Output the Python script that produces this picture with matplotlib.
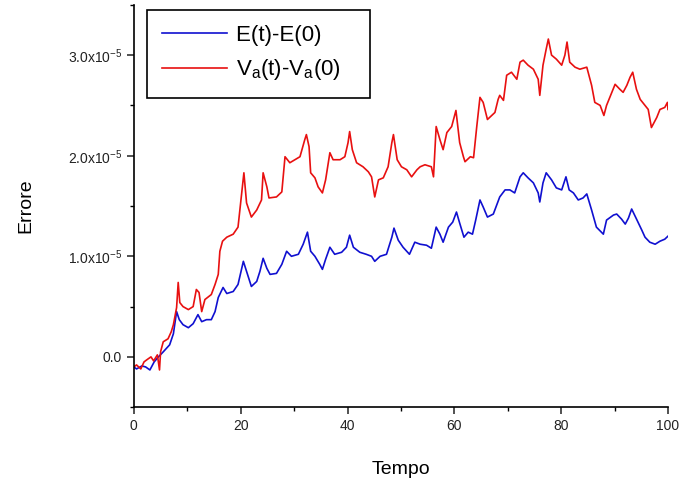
import matplotlib
matplotlib.use("Agg")
import matplotlib.pyplot as plt
from matplotlib.ticker import FuncFormatter, MultipleLocator

plt.rcParams["font.family"] = ["Liberation Sans", "DejaVu Sans"]
plt.rcParams["mathtext.default"] = "regular"

SCALE = 1e-5

# energy error E(t)-E(0), values in units of 1e-5
blue_t = [0.0, 0.5, 1.5, 2.2, 3.0, 3.8, 4.6, 5.5, 6.7, 7.4,
          8.0, 8.5, 9.2, 10.2, 11.1, 12.0, 12.7, 13.6, 14.5, 15.2,
          15.8, 16.7, 17.4, 18.6, 19.5, 20.5, 21.1, 22.0, 23.0, 23.6,
          24.2, 24.9, 25.5, 26.7, 27.7, 28.6, 29.5, 30.8, 31.7, 32.5,
          33.1, 33.9, 34.8, 35.3, 35.9, 36.7, 37.6, 38.9, 39.8, 40.4,
          41.1, 42.3, 43.5, 44.5, 45.1, 46.1, 47.3, 48.3, 48.7, 49.5,
          50.4, 51.6, 52.6, 53.6, 54.8, 55.7, 56.6, 57.3, 57.9, 58.9,
          59.7, 60.4, 61.0, 61.8, 62.6, 63.4, 64.0, 64.8, 65.4, 66.2,
          67.3, 68.5, 69.5, 70.4, 71.3, 72.3, 72.9, 73.8, 74.8, 75.7,
          76.0, 76.6, 77.2, 78.2, 79.1, 80.1, 80.9, 81.5, 82.3, 83.2,
          84.1, 84.8, 85.7, 86.6, 87.9, 88.5, 89.8, 90.4, 91.3, 92.0,
          92.6, 93.2, 94.2, 95.1, 95.7, 96.6, 97.6, 98.5, 99.4, 100.0]
blue_v = [-0.10, -0.12, -0.09, -0.10, -0.13, -0.05, 0.00, 0.05, 0.12, 0.23,
          0.45, 0.37, 0.32, 0.29, 0.33, 0.42, 0.35, 0.37, 0.37, 0.45,
          0.59, 0.69, 0.63, 0.65, 0.72, 0.95, 0.85, 0.70, 0.75, 0.85,
          0.98, 0.88, 0.82, 0.83, 0.92, 1.05, 1.00, 1.02, 1.12, 1.24,
          1.05, 1.00, 0.92, 0.87, 0.97, 1.09, 1.02, 1.04, 1.09, 1.21,
          1.09, 1.04, 1.02, 1.00, 0.95, 1.00, 1.02, 1.19, 1.28, 1.16,
          1.09, 1.02, 1.14, 1.12, 1.11, 1.08, 1.29, 1.22, 1.14, 1.29,
          1.34, 1.44, 1.33, 1.19, 1.24, 1.22, 1.36, 1.56, 1.49, 1.39,
          1.42, 1.59, 1.66, 1.66, 1.63, 1.79, 1.83, 1.78, 1.73, 1.63,
          1.54, 1.73, 1.83, 1.76, 1.68, 1.66, 1.79, 1.66, 1.63, 1.56,
          1.58, 1.62, 1.46, 1.29, 1.22, 1.36, 1.41, 1.42, 1.37, 1.32,
          1.38, 1.47, 1.36, 1.26, 1.19, 1.14, 1.12, 1.15, 1.17, 1.20]

# Va(t)-Va(0), values in units of 1e-5
red_t = [0.0, 0.5, 1.3, 1.9, 2.4, 3.2, 3.7, 4.4, 4.8, 5.0,
         5.5, 6.4, 7.0, 7.4, 8.0, 8.3, 8.6, 9.2, 10.2, 11.1,
         11.7, 12.2, 12.7, 13.3, 14.5, 15.2, 15.8, 16.1, 16.6, 17.4,
         18.6, 19.5, 20.2, 20.6, 21.1, 22.0, 23.0, 23.9, 24.2, 24.9,
         25.3, 26.7, 27.7, 28.3, 29.2, 31.1, 32.0, 32.3, 32.8, 33.1,
         33.9, 34.5, 35.3, 35.9, 36.7, 37.3, 38.6, 39.5, 40.1, 40.4,
         40.9, 41.7, 42.9, 43.9, 44.5, 45.1, 45.8, 46.7, 47.6, 48.3,
         48.6, 49.3, 50.1, 51.1, 52.0, 53.0, 53.6, 54.5, 55.7, 56.1,
         56.6, 57.3, 57.9, 58.6, 59.5, 60.3, 61.0, 61.7, 62.0, 63.0,
         63.6, 64.2, 64.8, 65.4, 66.2, 67.0, 67.6, 68.2, 68.5, 69.2,
         69.8, 70.7, 71.7, 72.3, 72.9, 73.8, 74.8, 75.7, 76.0, 76.6,
         77.2, 77.6, 78.2, 79.1, 80.1, 80.7, 81.1, 81.6, 82.6, 83.5,
         84.8, 85.7, 86.3, 87.3, 88.0, 88.5, 89.5, 90.1, 91.0, 91.6,
         92.3, 92.9, 93.4, 94.1, 94.8, 95.7, 96.3, 96.9, 97.2, 97.9,
         98.5, 99.4, 99.9, 100.0]
red_v = [-0.10, -0.08, -0.12, -0.05, -0.03, 0.00, -0.04, 0.02, -0.13, 0.05,
         0.15, 0.18, 0.25, 0.32, 0.49, 0.74, 0.54, 0.50, 0.47, 0.50,
         0.67, 0.64, 0.45, 0.57, 0.62, 0.72, 0.82, 1.05, 1.15, 1.19,
         1.22, 1.29, 1.63, 1.83, 1.53, 1.39, 1.46, 1.56, 1.83, 1.69,
         1.58, 1.59, 1.64, 1.99, 1.93, 1.99, 2.16, 2.21, 2.09, 1.83,
         1.78, 1.69, 1.63, 1.76, 2.03, 1.96, 1.96, 1.99, 2.13, 2.24,
         2.06, 1.93, 1.89, 1.84, 1.79, 1.59, 1.76, 1.78, 1.89, 2.13,
         2.21, 1.96, 1.89, 1.86, 1.79, 1.86, 1.89, 1.91, 1.89, 1.79,
         2.29, 2.16, 2.06, 2.23, 2.29, 2.45, 2.13, 1.99, 1.94, 1.99,
         1.98, 2.29, 2.58, 2.53, 2.36, 2.40, 2.43, 2.56, 2.60, 2.55,
         2.80, 2.83, 2.76, 2.93, 2.95, 2.90, 2.86, 2.76, 2.60, 2.90,
         3.06, 3.16, 3.00, 2.96, 2.90, 3.00, 3.13, 2.93, 2.88, 2.86,
         2.88, 2.70, 2.53, 2.50, 2.40, 2.50, 2.63, 2.71, 2.66, 2.63,
         2.70, 2.78, 2.83, 2.66, 2.56, 2.50, 2.46, 2.28, 2.31, 2.38,
         2.46, 2.48, 2.53, 2.46]

series_labels = ["E(t)-E(0)", "V$_a$(t)-V$_a$(0)"]


def fmt_y(val, pos):
    m = val / SCALE
    if abs(m) < 1e-9:
        return "0.0"
    return f"{m:.1f}x10$^{{-5}}$"


fig = plt.figure(figsize=(6.83, 4.83), dpi=100)
ax = fig.add_axes([0.196, 0.157, 0.782, 0.833])

ax.plot(blue_t, [v * SCALE for v in blue_v], color="#1010d0", lw=1.2,
        label=series_labels[0])
ax.plot(red_t, [v * SCALE for v in red_v], color="#e81010", lw=1.2,
        label=series_labels[1])

ax.set_xlim(0, 100)
ax.set_ylim(-0.5 * SCALE, 3.5 * SCALE)
ax.xaxis.set_major_locator(MultipleLocator(20))
ax.xaxis.set_minor_locator(MultipleLocator(10))
ax.yaxis.set_major_locator(MultipleLocator(1 * SCALE))
ax.yaxis.set_minor_locator(MultipleLocator(0.5 * SCALE))
ax.yaxis.set_major_formatter(FuncFormatter(fmt_y))

for side in ("top", "right"):
    ax.spines[side].set_visible(False)
for side in ("left", "bottom"):
    ax.spines[side].set_linewidth(1.2)

ax.tick_params(which="major", direction="out", length=5, width=1.1,
               labelsize=10, colors="#222222")
ax.tick_params(which="minor", direction="out", length=3, width=1.0)

ax.set_xlabel("Tempo", fontsize=14, labelpad=20)
ax.set_ylabel("Errore", fontsize=14, labelpad=24)

leg = ax.legend(loc="upper left", bbox_to_anchor=(0.024, 0.988),
                borderaxespad=0, fontsize=16, handlelength=2.9,
                handletextpad=0.4, fancybox=False, framealpha=1,
                edgecolor="black", borderpad=0.7, labelspacing=0.5)
leg.get_frame().set_linewidth(1.2)
# the original box leaves extra room right of the labels
for txt in leg.get_texts():
    txt.set_text(txt.get_text() + "   ")

fig.savefig("out.png", dpi=100)
